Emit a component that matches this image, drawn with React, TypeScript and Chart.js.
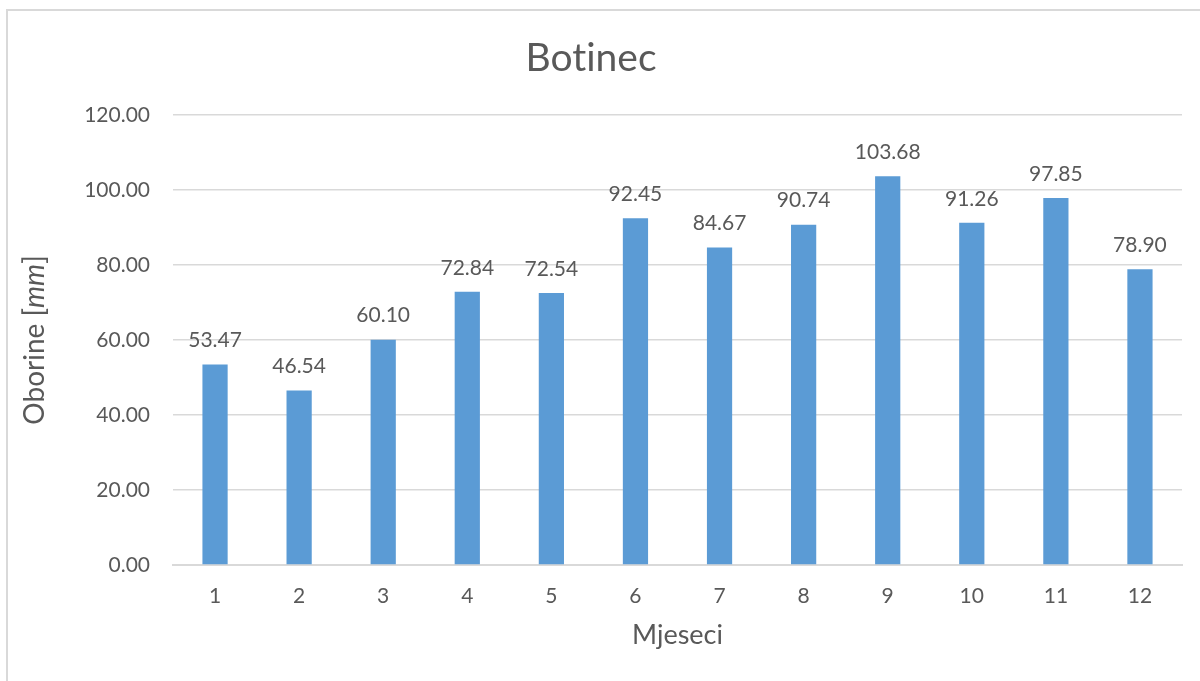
import React, { useEffect, useRef } from "react";
import { Chart, registerables } from "chart.js";

Chart.register(...registerables);

const months = ["1", "2", "3", "4", "5", "6", "7", "8", "9", "10", "11", "12"];
const precipitation = [53.47, 46.54, 60.1, 72.84, 72.54, 92.45, 84.67, 90.74, 103.68, 91.26, 97.85, 78.9];
const chartTitle = "Botinec";
const xTitle = "Mjeseci";
const yTitleParts = [
  { text: "Oborine [", italic: false },
  { text: "mm", italic: true },
  { text: "]", italic: false },
];

const FONT = "Lato, 'Open Sans', sans-serif";
const TEXT = "#595959";
const GRID = "#D9D9D9";

const framePlugin = {
  id: "frame",
  beforeDraw(chart: any) {
    const ctx = chart.ctx;
    ctx.save();
    ctx.fillStyle = "#ffffff";
    ctx.fillRect(0, 0, chart.width, chart.height);
    ctx.fillStyle = GRID;
    ctx.fillRect(6, 9, chart.width, 2);
    ctx.fillRect(6, 9, 2, chart.height);
    ctx.restore();
    try {
      (ctx as any).textRendering = "optimizeSpeed";
    } catch (e) {}
  },
};

const labelsPlugin = {
  id: "barLabels",
  afterDatasetsDraw(chart: any) {
    const ctx = chart.ctx;
    const meta = chart.getDatasetMeta(0);
    ctx.save();
    ctx.fillStyle = TEXT;
    ctx.font = `21px ${FONT}`;
    ctx.textAlign = "center";
    ctx.textBaseline = "middle";
    meta.data.forEach((bar: any, i: number) => {
      const v = chart.data.datasets[0].data[i] as number;
      ctx.fillText(v.toFixed(2), bar.x, bar.y - 24);
    });
    ctx.restore();
  },
};

const yTitlePlugin = {
  id: "yTitle",
  afterDraw(chart: any) {
    const ctx = chart.ctx;
    const area = chart.chartArea;
    const cy = (area.top + area.bottom) / 2;
    ctx.save();
    ctx.translate(35, cy);
    ctx.rotate(-Math.PI / 2);
    ctx.fillStyle = TEXT;
    ctx.textBaseline = "middle";
    const fontFor = (it: boolean) => `${it ? "italic " : ""}28px ${FONT}`;
    let total = 0;
    yTitleParts.forEach((p) => {
      ctx.font = fontFor(p.italic);
      total += ctx.measureText(p.text).width;
    });
    let x = -total / 2;
    ctx.textAlign = "left";
    yTitleParts.forEach((p) => {
      ctx.font = fontFor(p.italic);
      ctx.fillText(p.text, x, 0);
      x += ctx.measureText(p.text).width;
    });
    ctx.restore();
  },
};

export default function App() {
  const ref = useRef<HTMLCanvasElement | null>(null);
  useEffect(() => {
    if (!ref.current) return;
    const chart = new Chart(ref.current, {
      type: "bar",
      data: {
        labels: months,
        datasets: [
          {
            data: precipitation,
            backgroundColor: "#5B9BD5",
            borderWidth: 0,
            categoryPercentage: 1,
            barPercentage: 0.3,
          },
        ],
      },
      options: {
        animation: false,
        responsive: false,
        maintainAspectRatio: false,
        layout: { padding: { left: 0, right: 18, top: 0, bottom: 0 } },
        plugins: {
          legend: { display: false },
          tooltip: { enabled: false },
          title: {
            display: true,
            text: chartTitle,
            color: TEXT,
            font: { family: FONT, size: 39, weight: "normal" },
            padding: { top: 35, bottom: 33.2 },
          },
        },
        scales: {
          x: {
            afterFit(scale: any) {
              scale.height = 116;
            },
            grid: { display: false, drawTicks: false },
            border: { display: true, color: GRID, width: 2 },
            ticks: { color: TEXT, font: { family: FONT, size: 21 }, padding: 19 },
            title: {
              display: true,
              text: xTitle,
              color: TEXT,
              font: { family: FONT, size: 27 },
              padding: { top: 12, bottom: 30 },
            },
          },
          y: {
            min: 0,
            max: 120,
            afterFit(scale: any) {
              scale.width = 173;
            },
            grid: { color: GRID, drawTicks: false, lineWidth: 1.5 },
            border: { display: false },
            ticks: {
              stepSize: 20,
              color: TEXT,
              font: { family: FONT, size: 21 },
              padding: 23,
              callback: (v: any) => Number(v).toFixed(2),
            },
          },
        },
      },
      plugins: [framePlugin, labelsPlugin, yTitlePlugin],
    });
    return () => chart.destroy();
  }, []);
  return (
    <div style={{ position: "fixed", left: 0, top: 0, width: 1200, height: 681 }}>
      <canvas ref={ref} width={1200} height={681} style={{ display: "block" }} />
    </div>
  );
}
